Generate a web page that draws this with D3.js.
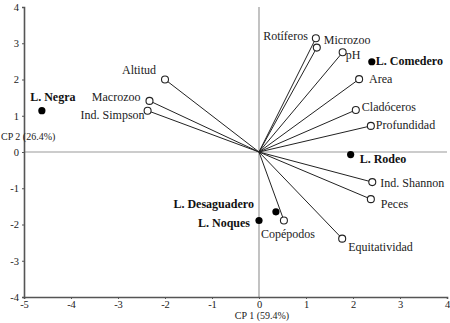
<!DOCTYPE html>
<html><head><meta charset="utf-8">
<script src="https://cdn.jsdelivr.net/npm/d3@7"></script>
<style>body{margin:0;background:#fff}svg{display:block}svg text{font-family:'Liberation Serif','Times New Roman',serif}</style>
</head><body>
<script>
// Variable loadings (vectors)
const varNames = ["Rotíferos","Microzoo","pH","Area","Cladóceros","Profundidad","Ind. Shannon","Peces","Equitatividad","Copépodos","Altitud","Macrozoo","Ind. Simpson"];
const varX = [1.21,1.23,1.78,2.13,2.06,2.38,2.41,2.38,1.77,0.53,-2.00,-2.33,-2.37];
const varY = [3.14,2.88,2.75,2.01,1.16,0.72,-0.83,-1.30,-2.39,-1.89,2.00,1.41,1.14];
// Site scores
const siteNames = ["L. Negra","L. Comedero","L. Rodeo","L. Desaguadero","L. Noques"];
const siteX = [-4.62,2.40,1.95,0.36,0.00];
const siteY = [1.14,2.49,-0.07,-1.65,-1.89];
// Axis ticks & titles
const xTicks = [-5,-4,-3,-2,-1,0,1,2,3,4];
const yTicks = [-4,-3,-2,-1,0,1,2,3,4];
const xTitle = "CP 1 (59.4%)";
const yTitle = "CP 2 (26.4%)";

// label layout (anchor, dx, dy in px) - separate from data
const varLab = [["end",-8,-2],["start",7,-7.5],["start",3,2],["start",10,0],["start",6,-3],["start",5,-1],["start",8,1],["start",10,5],["start",6,8],["middle",4,13],["end",-9,-9.5],["end",-9,-4],["end",-3,4]];
const siteLab = [["middle",11,-14],["start",4,-1],["start",9,4],["end",-22,-8],["end",-9,2]];

const W=450,H=323;
const svg=d3.select("body").append("svg").attr("width",W).attr("height",H);
const x=d3.scaleLinear().domain([-5,4]).range([24,447]);
const y=d3.scaleLinear().domain([-4,4]).range([297,7]);

// zero lines
svg.append("line").attr("x1",x(-5)).attr("x2",x(4)).attr("y1",y(0)).attr("y2",y(0)).attr("stroke","#9a9a9a").attr("stroke-width",1.2);
svg.append("line").attr("x1",x(0)).attr("x2",x(0)).attr("y1",y(-4)).attr("y2",y(4)).attr("stroke","#9a9a9a").attr("stroke-width",1.2);

// axes
const fmt=d=>d<0?"-"+Math.abs(d):String(d);
const gx=svg.append("g").attr("transform",`translate(0,${y(-4)})`)
  .call(d3.axisBottom(x).tickValues(xTicks).tickSize(2).tickPadding(2).tickFormat(fmt));
const gy=svg.append("g").attr("transform",`translate(${x(-5)},0)`)
  .call(d3.axisLeft(y).tickValues(yTicks).tickSize(2).tickPadding(3).tickFormat(fmt));
[gx,gy].forEach(g=>{
  g.select(".domain").attr("stroke","#555").attr("stroke-width",1.6);
  g.selectAll(".tick line").attr("stroke","#555");
  g.selectAll("text").style("font-family","'Liberation Serif',serif").style("font-size","10.5px").attr("fill","#222");
});

// axis titles
svg.append("text").attr("x",x(0)+3).attr("y",315).attr("dy","0.35em").attr("text-anchor","middle")
  .style("font-size","10px").attr("fill","#222").text(xTitle);
svg.append("text").attr("x",1).attr("y",136).attr("dy","0.35em").attr("text-anchor","start")
  .style("font-size","10px").attr("fill","#222").text(yTitle);

// vectors
const vars=varNames.map((n,i)=>({n,x:varX[i],y:varY[i],l:varLab[i]}));
svg.append("g").selectAll("line").data(vars).join("line")
  .attr("x1",x(0)).attr("y1",y(0)).attr("x2",d=>x(d.x)).attr("y2",d=>y(d.y))
  .attr("stroke","#222").attr("stroke-width",1);
svg.append("g").selectAll("circle").data(vars).join("circle")
  .attr("cx",d=>x(d.x)).attr("cy",d=>y(d.y)).attr("r",3.5)
  .attr("fill","#fff").attr("stroke","#222").attr("stroke-width",1.1);
svg.append("g").selectAll("text").data(vars).join("text")
  .attr("x",d=>x(d.x)+d.l[1]).attr("y",d=>y(d.y)+d.l[2]).attr("dy","0.35em")
  .attr("text-anchor",d=>d.l[0]).style("font-size","12px").attr("fill","#222").text(d=>d.n);

// sites
const sites=siteNames.map((n,i)=>({n,x:siteX[i],y:siteY[i],l:siteLab[i]}));
svg.append("g").selectAll("circle").data(sites).join("circle")
  .attr("cx",d=>x(d.x)).attr("cy",d=>y(d.y)).attr("r",3.6).attr("fill","#000");
svg.append("g").selectAll("text").data(sites).join("text")
  .attr("x",d=>x(d.x)+d.l[1]).attr("y",d=>y(d.y)+d.l[2]).attr("dy","0.35em")
  .attr("text-anchor",d=>d.l[0]).style("font-size","12px").style("font-weight","bold").attr("fill","#111").text(d=>d.n);
</script>
</body></html>
